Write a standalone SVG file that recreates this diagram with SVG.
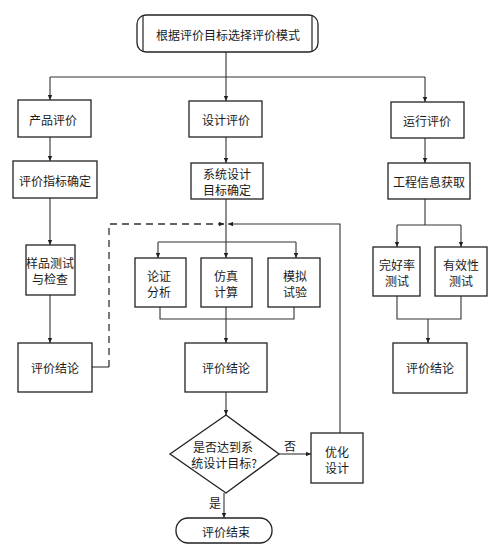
<svg xmlns="http://www.w3.org/2000/svg" width="504" height="560" viewBox="0 0 504 560">
<defs>
<style>
.n{fill:#fff;stroke:#222;stroke-width:1.3}
.t{font-family:"Noto Sans CJK SC","Noto Sans CJK JP",sans-serif;font-size:12px;fill:#1a1a1a;text-anchor:middle;dominant-baseline:central}
.c{fill:none;stroke:#333;stroke-width:1.1}
.d{fill:none;stroke:#333;stroke-width:1.3;stroke-dasharray:7,5}
</style>
<marker id="a" viewBox="0 0 8 8" refX="8" refY="4" markerWidth="5" markerHeight="5" orient="auto" markerUnits="userSpaceOnUse">
<path d="M0,0.5L8,4L0,7.5z" fill="#222"/>
</marker>
</defs>
<rect width="504" height="560" fill="#fff"/>
<g id="connectors">
<path class="c" d="M226,52V77M50,77H425"/>
<path class="c" d="M50,77V100" marker-end="url(#a)"/>
<path class="c" d="M226,77V101" marker-end="url(#a)"/>
<path class="c" d="M425,77V102" marker-end="url(#a)"/>
<path class="c" d="M50,137V161" marker-end="url(#a)"/>
<path class="c" d="M226,137V163" marker-end="url(#a)"/>
<path class="c" d="M425,138V163" marker-end="url(#a)"/>
<path class="c" d="M50,197V245" marker-end="url(#a)"/>
<path class="c" d="M50,295V343" marker-end="url(#a)"/>
<path class="c" d="M226,199V258" marker-end="url(#a)"/>
<path class="c" d="M158,242H296"/>
<path class="c" d="M158,242V258" marker-end="url(#a)"/>
<path class="c" d="M296,242V258" marker-end="url(#a)"/>
<path class="c" d="M160,307V319H294V307M226,307V343" marker-end="url(#a)"/>
<path class="c" d="M92,367H109"/>
<path class="d" d="M109,367V224H224" marker-end="url(#a)"/>
<path class="c" d="M340,433V224H228" marker-end="url(#a)"/>
<path class="c" d="M226,392V415" marker-end="url(#a)"/>
<path class="c" d="M279,454H311" marker-end="url(#a)"/>
<path class="c" d="M224,493V518" marker-end="url(#a)"/>
<path class="c" d="M425,199V225M397,225H461"/>
<path class="c" d="M397,225V247" marker-end="url(#a)"/>
<path class="c" d="M461,225V247" marker-end="url(#a)"/>
<path class="c" d="M397,296V319H461V296M428,319V343" marker-end="url(#a)"/>
<text class="t" x="290" y="445">否</text>
<text class="t" x="215" y="502">是</text>
</g>
<g id="start">
<rect class="n" x="137" y="15" width="181" height="37" rx="9"/>
<path class="c" d="M143,15V52M312,15V52" style="stroke-width:1.3"/>
<text class="t" x="228" y="34">根据评价目标选择评价模式</text>
</g>
<g id="product"><rect class="n" x="18" y="100" width="73" height="37"/><text class="t" x="53" y="119">产品评价</text></g>
<g id="design"><rect class="n" x="189" y="101" width="73" height="36"/><text class="t" x="226" y="119">设计评价</text></g>
<g id="operate"><rect class="n" x="391" y="102" width="73" height="36"/><text class="t" x="427" y="120">运行评价</text></g>
<g id="index"><rect class="n" x="13" y="161" width="84" height="37"/><text class="t" x="55" y="180">评价指标确定</text></g>
<g id="sysgoal"><rect class="n" x="191" y="163" width="72" height="36"/><text class="t" x="227" y="173">系统设计</text><text class="t" x="227" y="189">目标确定</text></g>
<g id="info"><rect class="n" x="388" y="163" width="82" height="36"/><text class="t" x="429" y="181">工程信息获取</text></g>
<g id="sample"><rect class="n" x="26" y="245" width="49" height="50"/><text class="t" x="50" y="262">样品测试</text><text class="t" x="50" y="278">与检查</text></g>
<g id="concl1"><rect class="n" x="18" y="343" width="74" height="49"/><text class="t" x="55" y="367">评价结论</text></g>
<g id="argue"><rect class="n" x="135" y="258" width="51" height="49"/><text class="t" x="159" y="275">论证</text><text class="t" x="159" y="291">分析</text></g>
<g id="sim"><rect class="n" x="201" y="258" width="51" height="49"/><text class="t" x="226" y="275">仿真</text><text class="t" x="226" y="291">计算</text></g>
<g id="test"><rect class="n" x="268" y="258" width="52" height="49"/><text class="t" x="295" y="275">模拟</text><text class="t" x="295" y="291">试验</text></g>
<g id="concl2"><rect class="n" x="185" y="343" width="82" height="49"/><text class="t" x="226" y="367">评价结论</text></g>
<g id="intact"><rect class="n" x="373" y="247" width="47" height="49"/><text class="t" x="397" y="264">完好率</text><text class="t" x="397" y="280">测试</text></g>
<g id="valid"><rect class="n" x="435" y="247" width="52" height="49"/><text class="t" x="461" y="264">有效性</text><text class="t" x="461" y="280">测试</text></g>
<g id="concl3"><rect class="n" x="393" y="343" width="74" height="50"/><text class="t" x="430" y="367">评价结论</text></g>
<g id="decision"><path class="n" d="M226,415L279,454L226,493L170,454z"/><text class="t" x="223" y="446">是否达到系</text><text class="t" x="224" y="462">统设计目标?</text></g>
<g id="optimize"><rect class="n" x="311" y="433" width="52" height="50"/><text class="t" x="337" y="451">优化</text><text class="t" x="337" y="467">设计</text></g>
<g id="end"><rect class="n" x="176" y="518" width="96" height="25" rx="12"/><text class="t" x="226" y="531">评价结束</text></g>
</svg>
